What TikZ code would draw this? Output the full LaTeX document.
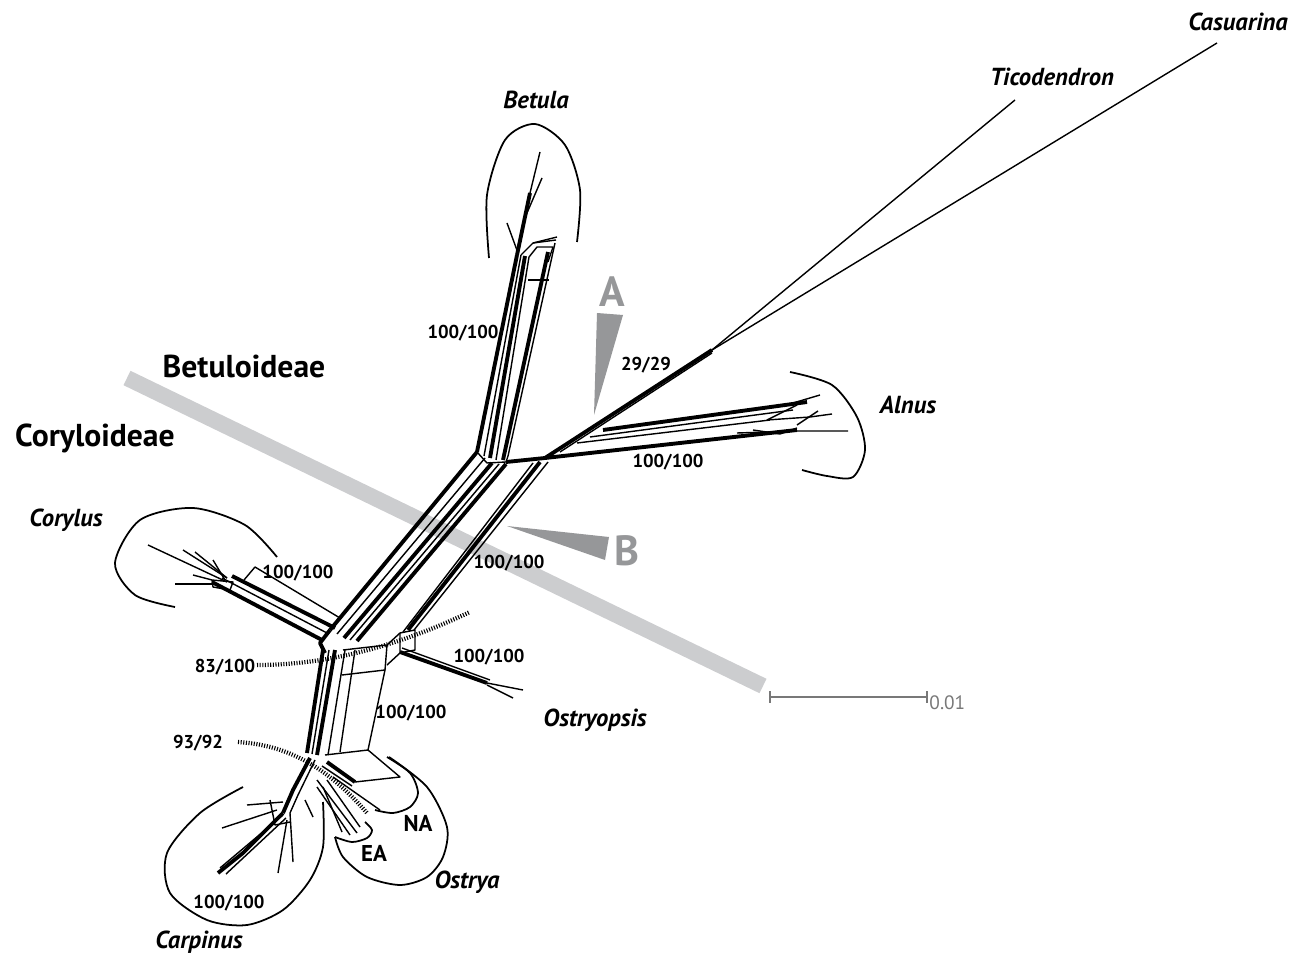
\documentclass[tikz,border=0pt]{standalone}
\usepackage{fontspec}
\setmainfont{PT Sans}
\usepackage{xcolor}
\usepackage{tikz}
\usetikzlibrary{positioning, calc}
\definecolor{barGrey}{RGB}{204,205,207}
\definecolor{markGrey}{RGB}{150,151,153}
\definecolor{scaleGrey}{RGB}{120,120,120}

\begin{document}
\begin{tikzpicture}[
    x=0.01cm, y=-0.01cm,
    net/.style={line width=0.4pt, line join=round},
    heavy/.style={line width=1.1pt, line join=round},
    clade/.style={line width=0.5pt},
    splitline/.style={line width=1.2pt, dash pattern=on 0.3pt off 0.45pt},
    taxon/.style={font=\fontsize{7}{8}\selectfont\bfseries\itshape, inner sep=0pt},
    support/.style={font=\fontsize{5.3}{6}\selectfont\bfseries, inner sep=0pt},
    subfam/.style={font=\fontsize{9}{10}\selectfont\bfseries, inner sep=0pt},
    letter/.style={font=\fontsize{12}{12}\selectfont\bfseries, text=markGrey, inner sep=0pt}
]
    \useasboundingbox (0,0) rectangle (1291,955);

    % Subfamily divide
    \draw[barGrey, line width=0.16cm] (127,378) -- (763,686);
    \node[subfam] (betuloideae) at (244,366) {Betuloideae};
    \node[subfam] (coryloideae) at (95,438) {Coryloideae};

    % Split markers
    \fill[markGrey] (597,313) -- (623,315) -- (594,415) -- cycle;
    \fill[markGrey] (507,526) -- (609,537) -- (605,560) -- cycle;
    \node[letter] (splitA) at (612,292) {A};
    \node[letter] (splitB) at (627,551) {B};

    % Junctions
    \coordinate (jTop) at (506,462);
    \coordinate (jLow) at (330,640);
    \coordinate (jOut) at (712,350);
    \coordinate (jCar) at (310,758);

    % Betula stem
    \draw[heavy] (477,452) -- (517,255);
    \draw[net] (484,456) -- (521,255);
    \draw[heavy] (490,458) -- (525,256);
    \draw[net] (496,460) -- (529,257);
    \draw[heavy] (503,460) -- (548,252);
    \draw[net] (508,456) -- (555,243);
    \draw[net] (521,255) -- (533,243) -- (556,240);
    \draw[net] (529,257) -- (537,247) -- (553,247) -- (548,262);
    \draw[net] (528,280) -- (549,280);
    \draw[heavy] (517,255) -- (530,193);
    \draw[net] (530,193) -- (540,152);
    \draw[net] (524,220) -- (542,178);
    \draw[net] (518,253) -- (507,223);
    \draw[net] (533,243) -- (557,237);
    \draw[net] (521,232) -- (528,205);

    % Alnus stem
    \draw[heavy] (jTop) -- (545,458) -- (797,430);
    \draw[net] (577,443) -- (770,420);
    \draw[heavy] (603,430) -- (807,402);
    \draw[net] (590,437) -- (793,410);
    \draw[net] (793,403) -- (820,395);
    \draw[net] (767,420) -- (797,405);
    \draw[net] (767,420) -- (810,417) -- (832,414);
    \draw[net] (737,433) -- (797,431) -- (848,431);
    \draw[net] (753,430) -- (780,434) -- (797,428);
    \draw[net] (797,425) -- (818,411);

    % Outgroups
    \draw[heavy] (545,458) -- (jOut);
    \draw[net] (560,452) -- (712,353);
    \draw[net] (jOut) -- (1015,100);
    \draw[net] (jOut) -- (1217,43);

    % Main trunk
    \draw[heavy] (477,452) -- (330,630);
    \draw[net] (485,458) -- (337,634);
    \draw[heavy] (492,463) -- (344,638);
    \draw[net] (499,464) -- (350,640);
    \draw[heavy] (506,464) -- (357,641);
    \draw[net] (477,452) -- (487,463) -- (jTop) -- (508,456);
    \draw[net] (533,463) -- (403,632);
    \draw[heavy] (540,462) -- (408,630);
    \draw[net] (548,462) -- (414,630);
    \draw[heavy] (330,630) -- (320,643) -- (325,653);

    % Corylus
    \draw[heavy] (322,640) -- (212,582);
    \draw[net] (327,633) -- (222,578);
    \draw[heavy] (335,628) -- (232,576);
    \draw[net] (340,618) -- (255,567) -- (244,580);
    \draw[net] (212,580) -- (233,582) -- (230,590) -- (213,587) -- cycle;
    \draw[net] (148,545) -- (227,582);
    \draw[net] (183,550) -- (227,578);
    \draw[net] (195,552) -- (227,578);
    \draw[net] (213,560) -- (225,580);
    \draw[net] (193,575) -- (212,580);
    \draw[net] (175,584) -- (212,584);

    % Ostryopsis and box
    \draw[net] (343,650) -- (387,645) -- (400,633) -- (415,630) -- (415,650) -- (400,653);
    \draw[net] (400,633) -- (400,653) -- (387,665);
    \draw[net] (387,645) -- (385,670);
    \draw[net] (342,675) -- (385,670);
    \draw[net] (385,670) -- (368,750);
    \draw[net] (355,650) -- (340,752);
    \draw[heavy] (400,652) -- (487,683);
    \draw[net] (402,648) -- (490,680);
    \draw[net] (487,683) -- (523,690);
    \draw[net] (487,685) -- (513,698);

    % Ostrya
    \draw[net] (325,755) -- (368,750) -- (400,777) -- (355,782);
    \draw[heavy] (327,762) -- (355,782);
    \draw[net] (322,766) -- (352,786);
    \draw[net] (333,777) -- (380,810);
    \draw[net] (317,780) -- (357,833);
    \draw[net] (317,787) -- (350,835);
    \draw[net] (323,787) -- (342,832);
    \draw[net] (327,780) -- (360,827);

    % Carpinus
    \draw[heavy] (323,650) -- (307,753);
    \draw[net] (329,650) -- (312,754);
    \draw[heavy] (335,650) -- (317,755);
    \draw[net] (345,650) -- (328,755);
    \draw[heavy] (jCar) -- (293,790) -- (283,813);
    \draw[net] (315,760) -- (298,795) -- (290,813);
    \draw[net] (247,805) -- (283,802);
    \draw[net] (222,828) -- (277,810);
    \draw[heavy] (218,873) -- (243,853) -- (283,813);
    \draw[net] (220,868) -- (283,815);
    \draw[net] (226,874) -- (286,818);
    \draw[net] (278,873) -- (287,820);
    \draw[net] (293,862) -- (290,813);
    \draw[net] (313,817) -- (305,800);
    \draw[net] (270,800) -- (275,825) -- (290,822);

    % Clade outlines
    \draw[clade] plot[smooth] coordinates {(489,258) (487,195) (505,140) (535,124) (565,145) (580,190) (577,242)};
    \draw[clade] plot[smooth] coordinates {(790,372) (832,385) (857,417) (865,450) (853,477) (827,476) (802,470)};
    \draw[clade] plot[smooth] coordinates {(277,557) (245,525) (193,508) (140,520) (115,563) (135,595) (175,607)};
    \draw[clade] plot[smooth] coordinates {(243,787) (200,813) (167,853) (170,893) (207,920) (247,925) (283,910) (310,880) (323,847) (323,802)};
    \draw[clade] plot[smooth] coordinates {(387,757) (410,773) (418,793) (410,807) (393,813) (375,810)};
    \draw[clade] plot[smooth] coordinates {(389,757) (427,787) (447,827) (443,857) (427,877) (400,885) (367,877) (343,857) (335,837)};
    \draw[clade] plot[smooth] coordinates {(365,822) (372,830) (367,838) (352,842) (335,837)};

    % Split lines
    \draw[splitline] (257,665) .. controls (330,665) and (400,645) .. (470,612);
    \draw[splitline] (238,742) .. controls (290,745) and (330,770) .. (367,813);

    % Taxa
    \node[taxon] (betula) at (536,100) {Betula};
    \node[taxon] (ticodendron) at (1052,77) {Ticodendron};
    \node[taxon] (casuarina) at (1238,22) {Casuarina};
    \node[taxon] (alnus) at (908,405) {Alnus};
    \node[taxon] (corylus) at (66,520) {Corylus};
    \node[taxon] (ostryopsis) at (595,720) {Ostryopsis};
    \node[taxon] (ostrya) at (467,882) {Ostrya};
    \node[taxon] (carpinus) at (199,942) {Carpinus};
    \node[support] (na) at (418,823) {\fontsize{6.5}{7}\selectfont NA};
    \node[support] (ea) at (374,853) {\fontsize{6.5}{7}\selectfont EA};

    % Support values
    \node[support] (sBetula) at (463,333) {100/100};
    \node[support] (sOut) at (646,365) {29/29};
    \node[support] (sAlnus) at (668,462) {100/100};
    \node[support] (sTrunk) at (509,563) {100/100};
    \node[support] (sCorylus) at (298,573) {100/100};
    \node[support] (sCory) at (225,667) {83/100};
    \node[support] (sOstryopsis) at (489,657) {100/100};
    \node[support] (sBox) at (411,713) {100/100};
    \node[support] (sCarp) at (198,743) {93/92};
    \node[support] (sCarpinus) at (229,903) {100/100};

    % Scale bar
    \coordinate (sbL) at (770,697);
    \coordinate (sbR) at (927,697);
    \draw[scaleGrey, line width=0.4pt] (sbL) -- (sbR);
    \draw[scaleGrey, line width=0.4pt] ($(sbL)+(0,-6)$) -- ($(sbL)+(0,6)$);
    \draw[scaleGrey, line width=0.4pt] ($(sbR)+(0,-6)$) -- ($(sbR)+(0,6)$);
    \node[right=0.5pt of sbR, inner sep=0pt, anchor=west, yshift=-1.5pt, text=scaleGrey, font=\fontsize{5.5}{6}\selectfont] (scale) {0.01};
\end{tikzpicture}
\end{document}
